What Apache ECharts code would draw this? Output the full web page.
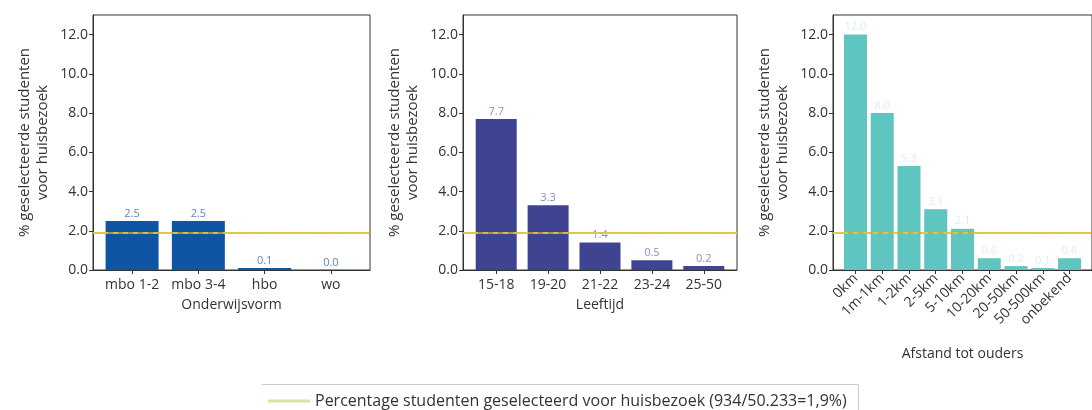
<!DOCTYPE html>
<html><head><meta charset="utf-8">
<script src="https://cdn.jsdelivr.net/npm/echarts@6/dist/echarts.min.js"></script>
<style>html,body{margin:0;padding:0;background:#fff}#c{width:1092px;height:410px}</style>
</head><body><div id="c"></div>
<script>
const catOnderwijs = ['mbo 1-2', 'mbo 3-4', 'hbo', 'wo'];
const valOnderwijs = [2.5, 2.5, 0.1, 0.0];
const catLeeftijd = ['15-18', '19-20', '21-22', '23-24', '25-50'];
const valLeeftijd = [7.7, 3.3, 1.4, 0.5, 0.2];
const catAfstand = ['0km', '1m-1km', '1-2km', '2-5km', '5-10km', '10-20km', '20-50km', '50-500km', 'onbekend'];
const valAfstand = [12.0, 8.0, 5.3, 3.1, 2.1, 0.6, 0.2, 0.1, 0.6];
const yTicks = [0, 2, 4, 6, 8, 10, 12];
const refLine = 1.9;
const yTitle = '% geselecteerde studenten\nvoor huisbezoek';
const xTitles = ['Onderwijsvorm', 'Leeftijd', 'Afstand tot ouders'];
const legendName = 'Percentage studenten geselecteerd voor huisbezoek (934/50.233=1,9%)';

const FONT = 'Open Sans';
const panels = [
  {cats: catOnderwijs, vals: valOnderwijs, left: 93, width: 277, color: '#0e56a4', lab: '#5f86bd', bw: 53, nameGap: 28, rot: 0},
  {cats: catLeeftijd, vals: valLeeftijd, left: 463, width: 274, color: '#3e4491', lab: '#8a8fbf', bw: 41, nameGap: 28, rot: 0},
  {cats: catAfstand, vals: valAfstand, left: 833, width: 276, color: '#5ec5c0', lab: '#d9efee', bw: 23, nameGap: 77, rot: 45}
];

const grid = [], xAxis = [], yAxis = [], series = [];
panels.forEach((p, i) => {
  const n = p.cats.length;
  const margin = 0.05 * (n - 1 + 0.8);
  grid.push({left: p.left, top: 15, width: p.width, height: 255, show: true, borderColor: '#333', borderWidth: 1, backgroundColor: 'transparent'});
  const idx = p.cats.map((c, k) => k);
  xAxis.push({
    type: 'value', gridIndex: i, min: -0.4 - margin, max: n - 1 + 0.4 + margin,
    name: xTitles[i], nameLocation: 'middle', nameGap: p.nameGap,
    nameTextStyle: {fontFamily: FONT, fontSize: 14, color: '#333'},
    axisLine: {show: true, onZero: false, lineStyle: {color: '#333'}},
    axisTick: {show: true, customValues: idx, length: 4, lineStyle: {color: '#333'}},
    axisLabel: {customValues: idx, formatter: v => p.cats[Math.round(v)] || '', rotate: p.rot,
      fontFamily: FONT, fontSize: 14, color: '#333', margin: p.rot ? 6 : 8},
    splitLine: {show: false}
  });
  yAxis.push({
    type: 'value', gridIndex: i, min: 0, max: 13,
    name: yTitle, nameLocation: 'middle', nameGap: 41, nameRotate: 90,
    nameTextStyle: {fontFamily: FONT, fontSize: 15, color: '#333', lineHeight: 18},
    axisLine: {show: true, onZero: false, lineStyle: {color: '#333'}},
    axisTick: {show: true, customValues: yTicks, length: 4, lineStyle: {color: '#333'}},
    axisLabel: {customValues: yTicks, formatter: v => v.toFixed(1), fontFamily: FONT, fontSize: 14, color: '#333', margin: 5},
    splitLine: {show: false}
  });
  series.push({
    type: 'bar', xAxisIndex: i, yAxisIndex: i, barWidth: p.bw,
    data: p.vals.map((v, k) => [k, v]),
    itemStyle: {color: p.color},
    label: {show: true, position: 'top', distance: 2, formatter: d => d.value[1].toFixed(1),
      fontFamily: FONT, fontSize: 11, color: p.lab},
    markLine: {
      silent: true, symbol: 'none', label: {show: false},
      data: [
        {yAxis: refLine, lineStyle: {color: '#f5a20f', type: 'solid', width: 1.5}},
        {yAxis: refLine, lineStyle: {color: '#c9d94a', type: [5, 5], width: 1.5}}
      ]
    },
    z: 2
  });
});
series.push({type: 'line', name: legendName, xAxisIndex: 0, yAxisIndex: 0, data: [], symbol: 'none',
  lineStyle: {color: '#dbe3a3', width: 3}, itemStyle: {color: '#dbe3a3'}});

const chart = echarts.init(document.getElementById('c'), null, {renderer: 'canvas'});
chart.setOption({
  animation: false,
  backgroundColor: '#fff',
  grid, xAxis, yAxis, series,
  legend: {data: [{name: legendName, icon: 'rect'}], left: 263, top: 388, itemWidth: 42, itemHeight: 3, itemGap: 6,
    textStyle: {fontFamily: FONT, fontSize: 16, color: '#333'}},
  graphic: [
    {type: 'polyline', shape: {points: [[262, 384.5], [858.5, 384.5], [858.5, 412]]}, style: {stroke: '#cccccc', fill: null, lineWidth: 1}, silent: true}
  ]
});
</script></body></html>
